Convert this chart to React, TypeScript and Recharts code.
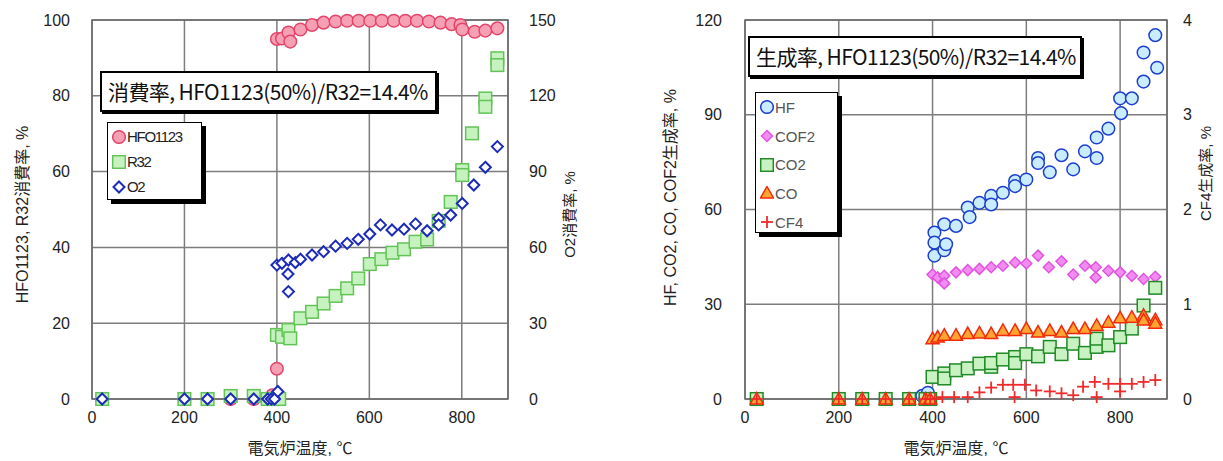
import {
  CartesianGrid,
  ReferenceArea,
  Scatter,
  ScatterChart,
  XAxis,
  YAxis,
} from "recharts";

// [temperature °C, rate]
const hfo1123: [number, number][] = [
  [22, 0], [200, 0], [250, 0], [300, 0], [350, 0], [380, 0], [390, 1], [400, 8],
  [400, 95], [411, 95.1], [425, 96.7], [429, 94.3], [451, 97.5], [476, 98.7],
  [501, 99.3], [527, 99.6], [552, 99.8], [577, 99.8], [602, 99.8], [627, 99.8],
  [653, 99.8], [678, 99.8], [703, 99.8], [729, 99.6], [754, 99.3], [778, 98.9],
  [797, 98.7], [801, 97.5], [828, 96.9], [851, 97.2], [877, 97.8],
];
const r32: [number, number][] = [
  [22, 0], [200, 0], [250, 0], [300, 0.8], [350, 0.8], [380, 0], [392, 0], [405, 0],
  [400, 16.9], [411, 16.4], [425, 18.2], [429, 16], [451, 21.3], [476, 23],
  [501, 25.2], [527, 27.2], [552, 29.2], [576, 31.8], [601, 35.6], [626, 36.9],
  [650, 38.6], [675, 39.5], [700, 41.5], [725, 42.1], [750, 47], [776, 52],
  [801, 60.4], [801, 59.1], [822, 70.1], [851, 79.3], [851, 77.1], [877, 89.9], [877, 88.1],
];
// O2 on the right axis (0-150)
const o2: [number, number][] = [
  [22, 0], [200, 0], [250, 0], [300, 0], [350, 0], [380, 0], [388, 0], [395, 0], [402, 3],
  [400, 53], [411, 53.7], [425, 55], [424, 49.5], [425, 42.5], [440, 54], [451, 55.3],
  [476, 57], [501, 58.3], [527, 60.5], [552, 61.6], [576, 63.2], [601, 65.3], [624, 68.9],
  [649, 66.9], [675, 67.2], [700, 69.3], [725, 66.6], [750, 71.5], [750, 68.9],
  [776, 72.8], [801, 77.4], [826, 84.7], [851, 91.7], [877, 99.9],
];

const hf: [number, number][] = [
  [25, 0], [200, 0], [250, 0], [300, 0], [350, 0], [378, 1], [390, 2],
  [404, 52.7], [404, 49.5], [404, 45.4], [425, 55.3], [425, 47.1], [429, 49], [450, 54.8],
  [475, 60.6], [479, 57.6], [500, 62.1], [525, 64.3], [525, 61.6], [550, 65.3], [576, 69],
  [576, 67.4], [600, 69.5], [625, 76.3], [625, 74.7], [650, 71.8], [675, 77.2], [700, 72.7],
  [725, 78.4], [750, 82.8], [750, 76.3], [775, 85.6], [800, 95.2], [802, 90.5], [825, 95.2],
  [850, 100.5], [850, 109.7], [875, 115.2], [879, 104.9],
];
const cof2: [number, number][] = [
  [25, 0], [200, 0], [250, 0], [300, 0], [350, 0], [380, 0],
  [400, 39.4], [411, 38.5], [425, 39], [425, 36.6], [450, 40.1], [475, 40.8], [500, 41.2],
  [525, 41.7], [550, 42.2], [576, 43.2], [600, 42.9], [625, 45.4], [648, 41.7], [675, 43.6],
  [700, 39.4], [725, 42.2], [748, 41.7], [748, 38.5], [775, 40.6], [800, 40.1], [825, 39],
  [850, 38], [875, 38.7],
];
const co2: [number, number][] = [
  [25, 0], [200, 0], [250, 0], [300, 0], [350, 0], [385, 0], [395, 0],
  [400, 7], [425, 8.1], [425, 6.5], [450, 9.1], [475, 9.7], [500, 11.2], [525, 10.2],
  [525, 11.4], [550, 12.5], [576, 13.3], [576, 11.4], [600, 14.2], [625, 13.5], [650, 16.5],
  [675, 14.2], [700, 17.5], [725, 14.6], [750, 16.5], [750, 19.1], [775, 17], [800, 19.6],
  [825, 22.3], [850, 29.6], [875, 35.2],
];
const co: [number, number][] = [
  [25, 0], [200, 0], [250, 0], [300, 0], [350, 0], [385, 0], [395, 0],
  [400, 19.1], [411, 19.6], [425, 20.2], [450, 20.2], [475, 20.7], [500, 20.9], [525, 20.7],
  [550, 21.7], [576, 21.7], [600, 22.3], [625, 21.2], [650, 21.7], [675, 21.2], [700, 22.3],
  [725, 22.3], [750, 23.3], [775, 24.3], [800, 25.7], [825, 25.9], [850, 26.5], [850, 25],
  [875, 25.1], [875, 24],
];
// CF4 on the right axis (0-4)
const cf4: [number, number][] = [
  [25, 0], [200, 0], [250, 0], [300, 0], [350, 0], [385, 0], [395, 0], [405, 0],
  [421, 0.02], [446, 0.02], [475, 0.02], [500, 0.07], [525, 0.12], [550, 0.15], [572, 0.15],
  [575, 0.02], [597, 0.15], [621, 0.09], [650, 0.08], [675, 0.06], [700, 0.04], [721, 0.13],
  [746, 0.18], [750, 0.02], [775, 0.16], [800, 0.16], [800, 0.08], [825, 0.16], [850, 0.18],
  [875, 0.2],
];

const xTicks = [0, 200, 400, 600, 800];
const leftTicks1 = [0, 20, 40, 60, 80, 100];
const rightTicks1 = [0, 30, 60, 90, 120, 150];
const leftTicks2 = [0, 30, 60, 90, 120];
const rightTicks2 = [0, 1, 2, 3, 4];

const toRows = (pts: [number, number][]) => pts.map(([t, v]) => ({ t, v }));

const GRID = "#7d7d7d";
const TICK = { fontSize: 16, fill: "#222", fontFamily: "'Liberation Sans', Arial, sans-serif" };
const LABEL_FONT = "'Liberation Sans', 'Noto Sans CJK JP', sans-serif";

type P = { cx?: number; cy?: number };

const circle = (fill: string, stroke: string) => (p: P) =>
  <circle cx={p.cx} cy={p.cy} r={6.3} fill={fill} stroke={stroke} strokeWidth={1.5} />;
const square = (fill: string, stroke: string) => (p: P) =>
  <rect x={(p.cx ?? 0) - 6.3} y={(p.cy ?? 0) - 6.3} width={12.6} height={12.6} fill={fill} stroke={stroke} strokeWidth={1.5} />;
const diamond = (fill: string, stroke: string, sw = 2) => (p: P) => {
  const x = p.cx ?? 0, y = p.cy ?? 0;
  return <polygon points={`${x},${y - 5.5} ${x + 5.5},${y} ${x},${y + 5.5} ${x - 5.5},${y}`} fill={fill} stroke={stroke} strokeWidth={sw} />;
};
const triangle = (fill: string, stroke: string) => (p: P) => {
  const x = p.cx ?? 0, y = p.cy ?? 0;
  return <polygon points={`${x},${y - 6.5} ${x + 6.5},${y + 5} ${x - 6.5},${y + 5}`} fill={fill} stroke={stroke} strokeWidth={1.5} />;
};
const cross = (stroke: string) => (p: P) => {
  const x = p.cx ?? 0, y = p.cy ?? 0;
  return (
    <g stroke={stroke} strokeWidth={1.8}>
      <line x1={x - 6} y1={y} x2={x + 6} y2={y} />
      <line x1={x} y1={y - 6} x2={x} y2={y + 6} />
    </g>
  );
};

const hfoShape = circle("#f7a0b4", "#e2466a");
const r32Shape = square("#c6f2bf", "#62c456");
const o2Shape = diamond("#ffffff", "#1c2cb8");
const hfShape = circle("#c9ecff", "#1d3fcf");
const cof2Shape = diamond("#f38cf0", "#e055df", 1.5);
const co2Shape = square("#c9f2c2", "#1f8a26");
const coShape = triangle("#ffa631", "#f22a0c");
const cf4Shape = cross("#f02a2a");

function Mark({ shape }: { shape: (p: P) => any }) {
  return (
    <svg width={14} height={14} style={{ display: "block" }}>
      {shape({ cx: 7, cy: 7 })}
    </svg>
  );
}

function TitleBox({ left, top, width, text }: { left: number; top: number; width: number; text: string }) {
  return (
    <div
      style={{
        position: "absolute", left, top, width, height: 41, boxSizing: "border-box",
        border: "2px solid #000", boxShadow: "2px 2px 0 #000", background: "#fff",
        fontFamily: "'Noto Sans CJK JP', sans-serif", fontSize: 21, letterSpacing: -0.6,
        lineHeight: "37px", paddingLeft: 6, whiteSpace: "nowrap", color: "#111",
      }}
    >
      {text}
    </div>
  );
}

type Item = { name: string; shape: (p: P) => any };

function LegendBox({ left, top, width, height, items, gap, font, color, spacing, padTop }: {
  left: number; top: number; width: number; height: number; items: Item[]; gap: number;
  font: number; color: string; spacing: number; padTop: number;
}) {
  return (
    <div
      style={{
        position: "absolute", left, top, width, height, boxSizing: "border-box",
        border: "1.5px solid #000", boxShadow: "4px 4px 0 #000", background: "#fff",
        padding: `${padTop}px 0 0 4px`,
      }}
    >
      {items.map((it) => (
        <div key={it.name} style={{ display: "flex", alignItems: "center", height: gap }}>
          <Mark shape={it.shape} />
          <span style={{ fontFamily: "'Liberation Sans', Arial, sans-serif", fontSize: font, letterSpacing: spacing, color, marginLeft: 1 }}>
            {it.name}
          </span>
        </div>
      ))}
    </div>
  );
}

export default function App() {
  return (
    <div style={{ position: "absolute", left: 0, top: 0, width: 1223, height: 461, background: "#fff", overflow: "hidden" }}>
      <div style={{ position: "absolute", left: 0, top: 0 }}>
        <ScatterChart width={620} height={461} margin={{ top: 20, right: 0, bottom: 0, left: 0 }}>
          <CartesianGrid yAxisId="l" stroke={GRID} strokeWidth={1.5} />
          <XAxis
            type="number" dataKey="t" domain={[0, 900]} ticks={xTicks} height={62}
            axisLine={false} tickLine={false} tickSize={0} tickMargin={13} tick={TICK}
            label={{ value: "電気炉温度, ℃", position: "center", dy: 18, fontSize: 16, fill: "#222", fontFamily: LABEL_FONT }}
          />
          <YAxis
            yAxisId="l" type="number" dataKey="v" domain={[0, 100]} ticks={leftTicks1} width={92}
            axisLine={false} tickLine={false} tickSize={0} tickMargin={22} tick={TICK}
            label={{ value: "HFO1123, R32消費率, %", angle: -90, position: "center", dx: -24, dy: 5, fontSize: 16, fill: "#222", fontFamily: LABEL_FONT }}
          />
          <YAxis
            yAxisId="r" orientation="right" type="number" dataKey="v" domain={[0, 150]} ticks={rightTicks1} width={112}
            axisLine={false} tickLine={false} tickSize={0} tickMargin={21} tick={TICK}
            label={{ value: "O2消費率, %", angle: -90, position: "center", dx: 6, dy: 5, fontSize: 15, fill: "#222", fontFamily: LABEL_FONT }}
          />
          <ReferenceArea yAxisId="l" x1={0} x2={900} y1={0} y2={100} fill="none" stroke="#6a6a6a" strokeWidth={1.5} />
          <Scatter yAxisId="l" data={toRows(hfo1123)} shape={hfoShape} isAnimationActive={false} />
          <Scatter yAxisId="l" data={toRows(r32)} shape={r32Shape} isAnimationActive={false} />
          <Scatter yAxisId="r" data={toRows(o2)} shape={o2Shape} isAnimationActive={false} />
        </ScatterChart>
      </div>
      <div style={{ position: "absolute", left: 620, top: 0 }}>
        <ScatterChart width={603} height={461} margin={{ top: 20, right: 0, bottom: 0, left: 0 }}>
          <CartesianGrid yAxisId="l" stroke={GRID} strokeWidth={1.5} />
          <XAxis
            type="number" dataKey="t" domain={[0, 900]} ticks={xTicks} height={62}
            axisLine={false} tickLine={false} tickSize={0} tickMargin={13} tick={TICK}
            label={{ value: "電気炉温度, ℃", position: "center", dy: 18, fontSize: 16, fill: "#222", fontFamily: LABEL_FONT }}
          />
          <YAxis
            yAxisId="l" type="number" dataKey="v" domain={[0, 120]} ticks={leftTicks2} width={125}
            axisLine={false} tickLine={false} tickSize={0} tickMargin={23} tick={TICK}
            label={{ value: "HF, CO2, CO, COF2生成率, %", angle: -90, position: "center", dx: -12, dy: -12, fontSize: 16, fill: "#222", fontFamily: LABEL_FONT }}
          />
          <YAxis
            yAxisId="r" orientation="right" type="number" dataKey="v" domain={[0, 4]} ticks={rightTicks2} width={56}
            axisLine={false} tickLine={false} tickSize={0} tickMargin={16} tick={TICK}
            label={{ value: "CF4生成率, %", angle: -90, position: "center", dx: 11, dy: -36, fontSize: 15, fill: "#222", fontFamily: LABEL_FONT }}
          />
          <ReferenceArea yAxisId="l" x1={0} x2={900} y1={0} y2={120} fill="none" stroke="#6a6a6a" strokeWidth={1.5} />
          <Scatter yAxisId="l" data={toRows(hf)} shape={hfShape} isAnimationActive={false} />
          <Scatter yAxisId="l" data={toRows(cof2)} shape={cof2Shape} isAnimationActive={false} />
          <Scatter yAxisId="l" data={toRows(co2)} shape={co2Shape} isAnimationActive={false} />
          <Scatter yAxisId="l" data={toRows(co)} shape={coShape} isAnimationActive={false} />
          <Scatter yAxisId="r" data={toRows(cf4)} shape={cf4Shape} isAnimationActive={false} />
        </ScatterChart>
      </div>

      <TitleBox left={100} top={71} width={337} text="消費率, HFO1123(50%)/R32=14.4%" />
      <TitleBox left={748} top={36} width={334} text="生成率, HFO1123(50%)/R32=14.4%" />

      <LegendBox
        left={107} top={122} width={95} height={78} gap={25} font={15} spacing={-1.3} color="#222" padTop={1}
        items={[
          { name: "HFO1123", shape: hfoShape },
          { name: "R32", shape: r32Shape },
          { name: "O2", shape: o2Shape },
        ]}
      />
      <LegendBox
        left={755} top={92} width={83} height={141} gap={28.7} font={15} spacing={0} color="#555" padTop={0}
        items={[
          { name: "HF", shape: hfShape },
          { name: "COF2", shape: cof2Shape },
          { name: "CO2", shape: co2Shape },
          { name: "CO", shape: coShape },
          { name: "CF4", shape: cf4Shape },
        ]}
      />
    </div>
  );
}
